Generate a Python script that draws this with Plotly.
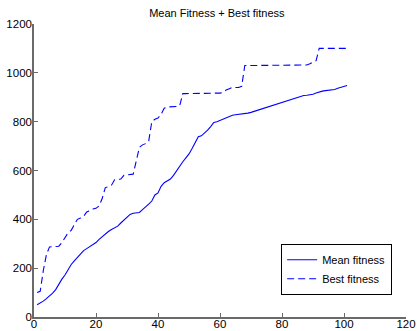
import plotly.graph_objects as go

generations = list(range(1, 102))

mean_fitness = [
    50, 57, 65, 75, 85, 98, 112, 135, 155, 172,
    195, 215, 230, 245, 260, 272, 280, 288, 296, 305,
    318, 330, 340, 350, 358, 366, 372, 385, 398, 408,
    420, 425, 426, 428, 440, 450, 462, 475, 500, 508,
    535, 550, 556, 565, 580, 600, 618, 636, 652, 668,
    690, 715, 738, 742, 752, 765, 780, 797, 800, 805,
    812, 818, 822, 826, 828, 829, 830, 832, 835, 838,
    842, 846, 850, 855, 860, 864, 868, 873, 876, 880,
    883, 887, 890, 895, 900, 904, 907, 908, 909, 912,
    917, 922, 925, 927, 928, 929, 932, 937, 941, 946,
    948,
]

best_fitness = [
    100, 105, 190, 255, 287, 287, 287, 290, 305, 325,
    345, 355, 375, 400, 405, 412, 430, 437, 442, 445,
    455, 485, 530, 534, 540, 562, 562, 565, 580, 582,
    582, 585, 640, 695, 705, 710, 720, 800, 810, 815,
    830, 855, 860, 860, 860, 862, 865, 915, 915, 915,
    915, 915, 915, 915, 915, 915, 915, 915, 917, 917,
    920, 930, 935, 940, 940, 940, 945, 1030, 1030, 1030,
    1030, 1030, 1030, 1030, 1030, 1030, 1030, 1030, 1030, 1030,
    1030, 1030, 1030, 1030, 1030, 1030, 1030, 1032, 1037, 1045,
    1050, 1100, 1100, 1100, 1100, 1100, 1100, 1100, 1100, 1100,
    1100,
]

x_ticks = [0, 20, 40, 60, 80, 100, 120]
y_ticks = [0, 200, 400, 600, 800, 1000, 1200]

FONT = "Liberation Sans, Arial, Helvetica, sans-serif"

fig = go.Figure()
fig.add_trace(go.Scatter(
    x=generations, y=mean_fitness, mode="lines", name="Mean fitness",
    line=dict(color="#0000ff", width=1.1),
))
fig.add_trace(go.Scatter(
    x=generations, y=best_fitness, mode="lines", name="Best fitness",
    line=dict(color="#0000ff", width=1.1, dash="7px,4px"),
))

axis_common = dict(
    showgrid=False, zeroline=False, showline=True, linecolor="#6a6a6a",
    linewidth=1.5, ticks="inside", ticklen=4, tickcolor="#6a6a6a",
    tickwidth=1, automargin=False,
    tickfont=dict(family=FONT, size=11.5, color="#000000"),
)

fig.update_layout(
    width=417, height=331,
    margin=dict(l=34, r=11, t=24, b=14),
    paper_bgcolor="white", plot_bgcolor="white",
    title=dict(text="Mean Fitness + Best fitness", x=0.52, xanchor="center",
               y=0.96, yanchor="middle",
               font=dict(family=FONT, size=11, color="#000000")),
    xaxis=dict(range=[0, 120], tickvals=x_ticks, ticklabelstandoff=-5,
               **axis_common),
    yaxis=dict(range=[0, 1200], tickvals=y_ticks, ticklabelstandoff=-2,
               **axis_common),
    legend=dict(
        x=0.962, xanchor="right", y=0.075, yanchor="bottom",
        bgcolor="white", bordercolor="#000000", borderwidth=1.3,
        font=dict(family=FONT, size=11, color="#000000"),
        tracegroupgap=0, itemwidth=30,
    ),
    showlegend=True,
)

fig.write_html("out.html")
